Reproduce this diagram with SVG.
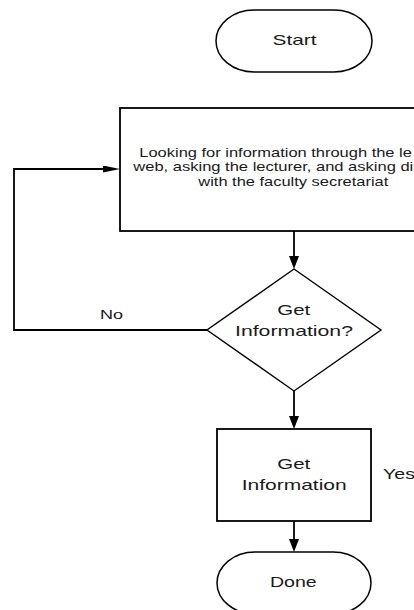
<svg xmlns="http://www.w3.org/2000/svg" width="414" height="610" viewBox="0 0 414 610">
<style>
.shape{fill:#fff;stroke:#000;stroke-width:1.8}
.dia{fill:#fff;stroke:#000;stroke-width:1.4}
.term{fill:#fff;stroke:#000;stroke-width:1.5}
.conn{fill:none;stroke:#000;stroke-width:1.8}
text{font-family:"Liberation Sans",Arial,sans-serif;fill:#1a1a1a}
.big{font-size:15px}
.small{font-size:13px}
</style>
<defs>
<marker id="arrV" markerUnits="userSpaceOnUse" viewBox="0 0 13 10" markerWidth="13" markerHeight="10" refX="1" refY="5" orient="auto"><path d="M0,0 L13,5 L0,10 z" fill="#000"/></marker>
<marker id="arrH" markerUnits="userSpaceOnUse" viewBox="0 0 17 7" markerWidth="17" markerHeight="7" refX="1" refY="3.5" orient="auto"><path d="M0,0 L17,3.5 L0,7 z" fill="#000"/></marker>
</defs>
<rect width="414" height="610" fill="#fff"/>
<g id="connectors">
<path class="conn" d="M294,231 V257" marker-end="url(#arrV)"/>
<path class="conn" d="M207,330 H14 V169 H104" marker-end="url(#arrH)"/>
<path class="conn" d="M294,391 V417" marker-end="url(#arrV)"/>
<path class="conn" d="M294,521 V540" marker-end="url(#arrV)"/>
<text class="small" x="100" y="319" textLength="23" lengthAdjust="spacingAndGlyphs">No</text>
<text class="big" x="383" y="479" textLength="32" lengthAdjust="spacingAndGlyphs">Yes</text>
</g>
<g id="start">
<rect class="term" x="216" y="10" width="156" height="62" rx="38" ry="31"/>
<text class="big" x="272.5" y="45" textLength="44" lengthAdjust="spacingAndGlyphs">Start</text>
</g>
<g id="search">
<rect class="shape" x="120" y="108" width="347" height="123"/>
<text class="small" x="139.3" y="156.5" textLength="272.6" lengthAdjust="spacingAndGlyphs">Looking for information through the le</text>
<text class="small" x="133.3" y="171" textLength="280" lengthAdjust="spacingAndGlyphs">web, asking the lecturer, and asking di</text>
<text class="small" x="198.3" y="185.5" textLength="190" lengthAdjust="spacingAndGlyphs">with the faculty secretariat</text>
</g>
<g id="decision">
<polygon class="dia" points="294,269 381,330 294,391 207,330"/>
<text class="big" x="277.3" y="315" textLength="33" lengthAdjust="spacingAndGlyphs">Get</text>
<text class="big" x="235" y="336" textLength="118" lengthAdjust="spacingAndGlyphs">Information?</text>
</g>
<g id="get-information">
<rect class="shape" x="217" y="429" width="154" height="92"/>
<text class="big" x="277.3" y="469" textLength="33" lengthAdjust="spacingAndGlyphs">Get</text>
<text class="big" x="241.7" y="490" textLength="105" lengthAdjust="spacingAndGlyphs">Information</text>
</g>
<g id="done">
<rect class="term" x="217" y="552" width="154" height="62" rx="38" ry="31"/>
<text class="big" x="270" y="587" textLength="46.7" lengthAdjust="spacingAndGlyphs">Done</text>
</g>
</svg>
